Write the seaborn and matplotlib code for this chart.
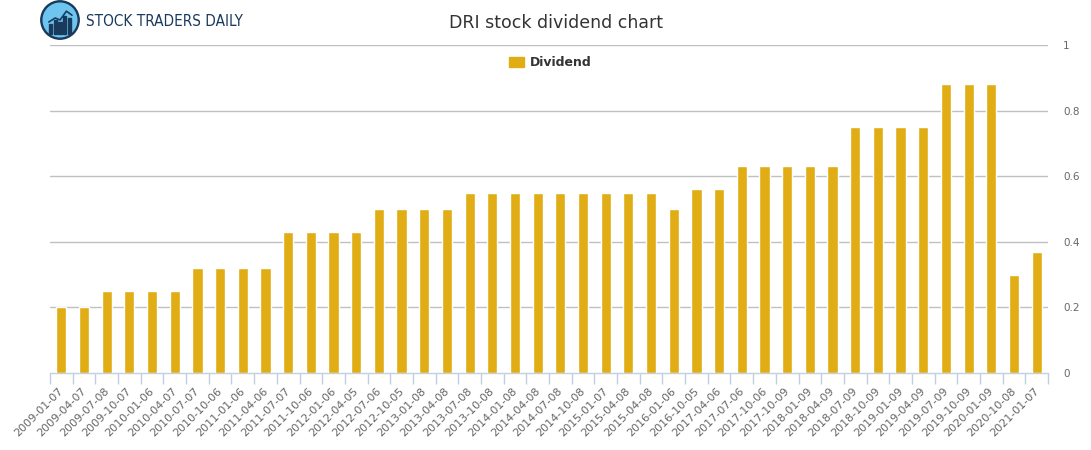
import numpy as np
import pandas as pd
import matplotlib
matplotlib.use("Agg")
import matplotlib.pyplot as plt
import matplotlib.transforms as mtransforms
import seaborn as sns
from matplotlib.patches import Circle, Rectangle

dates = ["2009-01-07", "2009-04-07", "2009-07-08", "2009-10-07",
         "2010-01-06", "2010-04-07", "2010-07-07", "2010-10-06",
         "2011-01-06", "2011-04-06", "2011-07-07", "2011-10-06",
         "2012-01-06", "2012-04-05", "2012-07-06", "2012-10-05",
         "2013-01-08", "2013-04-08", "2013-07-08", "2013-10-08",
         "2014-01-08", "2014-04-08", "2014-07-08", "2014-10-08",
         "2015-01-07", "2015-04-08", "2015-04-08", "2016-01-06",
         "2016-10-05", "2017-04-06", "2017-07-06", "2017-10-06",
         "2017-10-09", "2018-01-09", "2018-04-09", "2018-07-09",
         "2018-10-09", "2019-01-09", "2019-04-09", "2019-07-09",
         "2019-10-09", "2020-01-09", "2020-10-08", "2021-01-07"]
dividend = [0.20, 0.20, 0.25, 0.25, 0.25, 0.25, 0.32, 0.32, 0.32, 0.32,
            0.43, 0.43, 0.43, 0.43, 0.50, 0.50, 0.50, 0.50,
            0.55, 0.55, 0.55, 0.55, 0.55, 0.55, 0.55, 0.55, 0.55,
            0.50, 0.56, 0.56, 0.63, 0.63, 0.63, 0.63, 0.63,
            0.75, 0.75, 0.75, 0.75, 0.88, 0.88, 0.88, 0.30, 0.37]
yticks = [0, 0.2, 0.4, 0.6, 0.8, 1.0]
ytick_labels = ["0", "0.2", "0.4", "0.6", "0.8", "1"]

sns.set_theme(style="white")
plt.rcParams['font.family'] = ['DejaVu Sans']

df = pd.DataFrame({"idx": np.arange(len(dates)), "Dividend": dividend})

fig = plt.figure(figsize=(10.91, 4.5), dpi=100)
ax = fig.add_axes([50/1091, 1 - 373/450, 998/1091, 328/450])

bar_color = "#E0AE14"
sns.barplot(data=df, x="idx", y="Dividend", color=bar_color, width=0.45,
            saturation=1, ax=ax, zorder=3)

ax.set_xlim(-0.5, len(dates) - 0.5)
ax.set_ylim(0, 1.0)
ax.set_xlabel("")
ax.set_ylabel("")

# grid
for y in yticks[1:]:
    ax.axhline(y, color="#C0C0C0", lw=1, zorder=1)

ax.yaxis.tick_right()
ax.set_yticks(yticks)
ax.set_yticklabels(ytick_labels)
ax.tick_params(axis="y", length=0, pad=11, labelsize=7.5, labelcolor="#666666")

ax.set_xticks(np.arange(len(dates)))
ax.set_xticklabels(dates, rotation=45, ha="right", rotation_mode="anchor")
ax.tick_params(axis="x", which="major", length=0, pad=9, labelsize=8,
               labelcolor="#666666")
shift = mtransforms.ScaledTranslation(-3/100, 0, fig.dpi_scale_trans)
for lbl in ax.get_xticklabels():
    lbl.set_transform(lbl.get_transform() + shift)
ax.set_xticks(np.arange(-0.5, len(dates)), minor=True)
ax.tick_params(axis="x", which="minor", length=8, width=1, color="#C0D0E0",
               bottom=True)

for s in ["top", "left", "right"]:
    ax.spines[s].set_visible(False)
ax.spines["bottom"].set_color("#C0D0E0")
ax.spines["bottom"].set_linewidth(1)

# title
fig.text(556/1091, 1 - 23/450, "DRI stock dividend chart", ha="center",
         va="center", fontsize=12.5, color="#333333")

# legend
handle = Rectangle((0, 0), 1, 1, color=bar_color)
leg = fig.legend([handle], ["Dividend"], loc="center",
                 bbox_to_anchor=(550/1091, 1 - 63/450), frameon=False,
                 prop={"weight": "bold", "size": 9}, handlelength=1.2,
                 handleheight=0.9, handletextpad=0.5)
for t in leg.get_texts():
    t.set_color("#333333")

# logo
lax = fig.add_axes([40/1091, 1 - 40/450, 40/1091, 40/450])
lax.set_xlim(0, 1)
lax.set_ylim(0, 1)
lax.set_aspect("equal")
lax.axis("off")
lax.add_patch(Circle((0.5, 0.5), 0.48, color="#1a3a5c"))
lax.add_patch(Circle((0.5, 0.5), 0.42, color="#6ec6f0"))
for i, h in enumerate([0.25, 0.35, 0.3, 0.45, 0.4]):
    lax.add_patch(Rectangle((0.22 + i * 0.12, 0.15), 0.08, h, color="#1a3a5c"))
lax.plot([0.22, 0.38, 0.5, 0.66, 0.8], [0.45, 0.55, 0.5, 0.72, 0.62],
         color="#1a3a5c", lw=1.2)
fig.text(86/1091, 1 - 21/450, "STOCK TRADERS DAILY", ha="left", va="center",
         fontsize=11, color="#1a3a5c", fontstretch="condensed",
         family=["DejaVu Sans"])

fig.savefig("out.png", dpi=100)
